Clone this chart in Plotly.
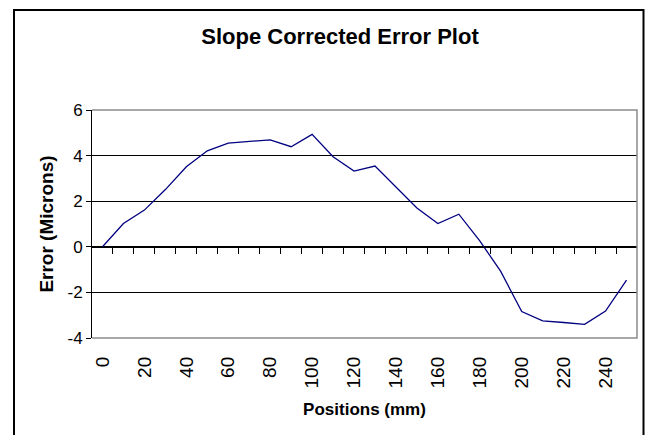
import plotly.graph_objects as go

# positions along the part, mm (Excel category axis)
positions = [0, 10, 20, 30, 40, 50, 60, 70, 80, 90, 100, 110, 120,
             130, 140, 150, 160, 170, 180, 190, 200, 210, 220, 230, 240, 250]
errors = [0.0, 1.02, 1.61, 2.51, 3.51, 4.21, 4.55, 4.62, 4.69, 4.39, 4.93, 3.95, 3.32,
          3.54, 2.63, 1.70, 1.02, 1.43, 0.26, -1.08, -2.84, -3.25, -3.32, -3.40, -2.82, -1.46]
x_label_vals = [0, 20, 40, 60, 80, 100, 120, 140, 160, 180, 200, 220, 240]
x_label_text = [str(v) for v in x_label_vals]
y_tick_vals = [-4, -2, 0, 2, 4, 6]
y_tick_text = ["-4", "-2", "0", "2", "4", "6"]
# tick marks sit between categories, like Excel
boundary_ticks = [p + 5 for p in positions[:-1]]

FONT = "Liberation Sans, Arial, sans-serif"
OFF = 8  # default body margin of the html page
# keep the page inside the 653x443 window so no scrollbars appear
W, H = 653 - 2 * OFF, 443 - 2 * OFF
M = {"l": 92 - OFF, "r": W - (637 - OFF), "t": 110 - OFF, "b": H - (338 - OFF)}
pw = W - M["l"] - M["r"]
ph = H - M["t"] - M["b"]
x_range = [-5, 255]


def px_x(v):
    # page pixel -> paper fraction
    return (v - OFF - M["l"]) / pw


def px_y(v):
    return (H - M["b"] - (v - OFF)) / ph


fig = go.Figure()
fig.add_trace(
    go.Scatter(
        x=positions,
        y=errors,
        mode="lines",
        line={"color": "#000080", "width": 1.3},
        showlegend=False,
    )
)
# empty trace so the zero-line axis (x2) gets drawn
fig.add_trace(
    go.Scatter(x=[], y=[], xaxis="x2", yaxis="y", showlegend=False, hoverinfo="skip")
)

fig.update_layout(
    width=W,
    height=H,
    margin=M,
    paper_bgcolor="white",
    plot_bgcolor="white",
    font={"family": FONT, "color": "black"},
    title={
        "text": "<b>Slope Corrected Error Plot</b>",
        "font": {"size": 22, "family": FONT, "color": "black"},
        "xref": "container",
        "x": (340 - OFF) / W,
        "xanchor": "center",
        "yref": "container",
        "y": 1 - (36 - OFF) / H,
        "yanchor": "middle",
    },
    xaxis={
        "range": x_range,
        "tickmode": "array",
        "tickvals": x_label_vals,
        "ticktext": x_label_text,
        "tickangle": -90,
        "ticks": "",
        "ticklabelstandoff": 14,
        "tickfont": {"size": 19},
        "showgrid": False,
        "zeroline": False,
        "showline": False,
        "title": {"text": "<b>Positions (mm)</b>", "font": {"size": 17}, "standoff": 15},
    },
    xaxis2={
        "overlaying": "x",
        "anchor": "free",
        "position": 0.4,
        "range": x_range,
        "tickmode": "array",
        "tickvals": boundary_ticks,
        "ticks": "outside",
        "ticklen": 6,
        "tickwidth": 1,
        "tickcolor": "black",
        "showticklabels": False,
        "showgrid": False,
        "zeroline": False,
        "showline": True,
        "linecolor": "black",
        "linewidth": 1,
    },
    yaxis={
        "range": [-4, 6],
        "tickmode": "array",
        "tickvals": y_tick_vals,
        "ticktext": y_tick_text,
        "ticks": "outside",
        "ticklen": 5,
        "tickcolor": "black",
        "tickfont": {"size": 17},
        "showgrid": True,
        "gridcolor": "black",
        "gridwidth": 1,
        "zeroline": False,
        "showline": True,
        "linecolor": "black",
        "linewidth": 1,
        "title": {"text": "<b>Error (Microns)</b>", "font": {"size": 19}, "standoff": 8},
    },
    shapes=[
        # gray plot-area frame (top, right, bottom)
        {
            "type": "path",
            "xref": "paper",
            "yref": "paper",
            "path": "M 0 1 L 1 1 L 1 0 L 0 0",
            "line": {"color": "#8c8c8c", "width": 1.5},
            "layer": "above",
        },
        # outer chart border
        {
            "type": "rect",
            "xref": "paper",
            "yref": "paper",
            "x0": px_x(14),
            "x1": px_x(643.5),
            "y0": px_y(470),
            "y1": px_y(10),
            "line": {"color": "black", "width": 2},
            "layer": "above",
        },
    ],
)

fig.write_html("out.html")
